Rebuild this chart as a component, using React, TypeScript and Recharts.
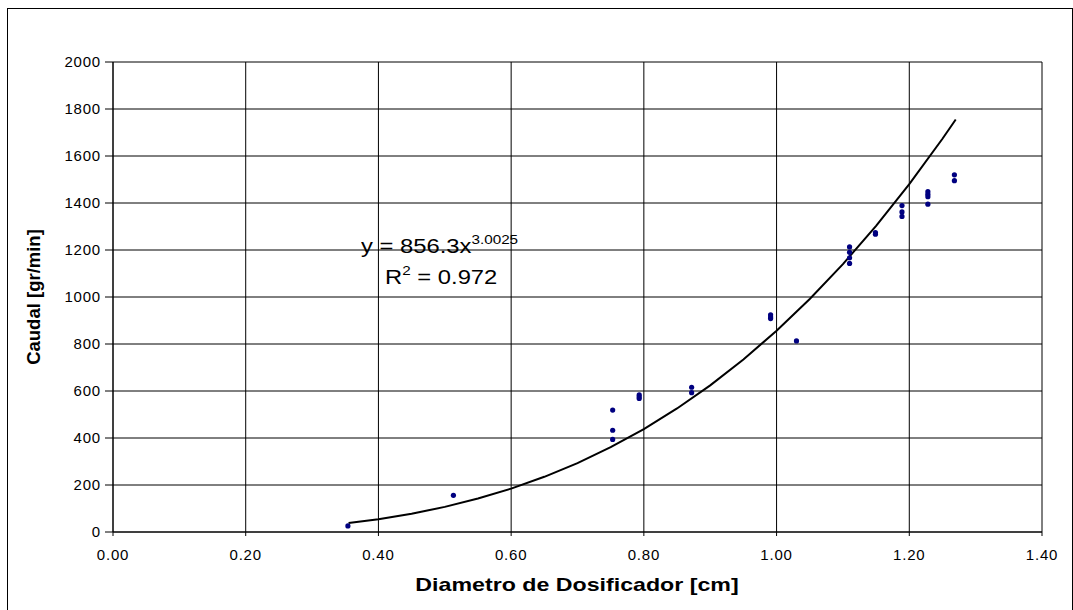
import React from "react";
import {
  ScatterChart,
  Scatter,
  XAxis,
  YAxis,
  CartesianGrid,
} from "recharts";

// measured points: diameter [cm] -> flow [gr/min]
const diam = [
  0.354, 0.513,
  0.753, 0.753, 0.753,
  0.793, 0.793, 0.793,
  0.872, 0.872,
  0.991, 0.991, 0.991,
  1.03,
  1.11, 1.11, 1.11, 1.11,
  1.149, 1.149,
  1.189, 1.189, 1.189,
  1.228, 1.228, 1.228, 1.228,
  1.268, 1.268,
];
const caudal = [
  26, 156,
  519, 433, 394,
  584, 576, 568,
  616, 593,
  924, 915, 908,
  813,
  1213, 1190, 1167, 1143,
  1274, 1267,
  1389, 1362, 1343,
  1448, 1437, 1427, 1395,
  1520, 1495,
];

// power trendline y = 856.3x^3.0025, as drawn
const trendX = [0.355, 0.4, 0.45, 0.5, 0.55, 0.6, 0.65, 0.7, 0.75, 0.8, 0.85, 0.9, 0.95, 1.0, 1.05, 1.1, 1.15, 1.2, 1.25, 1.27];
const trendY = [38.2, 54.7, 77.9, 106.9, 142.3, 184.7, 234.9, 293.4, 361.0, 438.2, 525.7, 624.1, 734.1, 856.3, 991.4, 1140.0, 1302.8, 1480.4, 1673.4, 1755.1];

const xTicks = [0, 0.2, 0.4, 0.6, 0.8, 1.0, 1.2, 1.4];
const yTicks = [0, 200, 400, 600, 800, 1000, 1200, 1400, 1600, 1800, 2000];

const points = diam.map((x, i) => ({ x, y: caudal[i] }));
const trend = trendX.map((x, i) => ({ x, y: trendY[i] }));

const font = '"Liberation Sans", Arial, sans-serif';

const Dot = (props: any) => (
  <circle cx={props.cx} cy={props.cy} r={2.6} fill="#000080" />
);

export default function App() {
  return (
    <div
      style={{
        position: "absolute",
        left: 0,
        top: 0,
        width: 1073,
        height: 610,
        overflow: "hidden",
        background: "#fff",
        fontFamily: font,
      }}
    >
      <div
        style={{
          position: "absolute",
          left: 7,
          top: 8,
          width: 1064,
          height: 640,
          border: "1px solid #000",
        }}
      />
      <div style={{ position: "absolute", left: 0, top: 0 }}>
        <ScatterChart
          width={1073}
          height={610}
          margin={{ top: 62, right: 31, left: 0, bottom: 0 }}
        >
          <CartesianGrid stroke="#000" strokeWidth={1} />
          <XAxis
            type="number"
            dataKey="x"
            domain={[0, 1.4]}
            ticks={xTicks}
            tickFormatter={(v: number) => v.toFixed(2)}
            height={78}
            stroke="#000"
            tickSize={4}
            tickMargin={13}
            tick={{ fill: "#000", fontSize: 15, fontFamily: font, letterSpacing: 0.8 }}
            allowDataOverflow
          />
          <YAxis
            type="number"
            dataKey="y"
            domain={[0, 2000]}
            ticks={yTicks}
            width={113}
            stroke="#000"
            tickSize={8}
            tickMargin={4}
            tick={{ fill: "#000", fontSize: 15, fontFamily: font, letterSpacing: 0.8 }}
            allowDataOverflow
          />
          <Scatter
            data={trend}
            line={{ stroke: "#000", strokeWidth: 2 }}
            lineType="joint"
            shape={() => <g />}
            isAnimationActive={false}
          />
          <Scatter data={points} shape={Dot} isAnimationActive={false} />
        </ScatterChart>
      </div>

      {/* trendline equation */}
      <div
        style={{
          position: "absolute",
          left: 361,
          top: 235,
          fontSize: 19.5,
          lineHeight: "22px",
          whiteSpace: "nowrap",
          transform: "scaleX(1.22)",
          transformOrigin: "left center",
          color: "#000",
        }}
      >
        y = 856.3x
        <span style={{ fontSize: 12.5, position: "relative", top: -9 }}>3.0025</span>
      </div>
      <div
        style={{
          position: "absolute",
          left: 385,
          top: 266,
          fontSize: 19.5,
          lineHeight: "22px",
          whiteSpace: "nowrap",
          transform: "scaleX(1.22)",
          transformOrigin: "left center",
          color: "#000",
        }}
      >
        R<span style={{ fontSize: 12.5, position: "relative", top: -9 }}>2</span> = 0.972
      </div>

      {/* axis titles */}
      <div
        style={{
          position: "absolute",
          left: 577,
          top: 585,
          fontSize: 19,
          fontWeight: "bold",
          whiteSpace: "nowrap",
          transform: "translate(-50%, -50%) scaleX(1.22)",
          color: "#000",
        }}
      >
        Diametro de Dosificador [cm]
      </div>
      <div
        style={{
          position: "absolute",
          left: 34,
          top: 297,
          fontSize: 18.5,
          fontWeight: "bold",
          whiteSpace: "nowrap",
          transform: "translate(-50%, -50%) rotate(-90deg)",
          color: "#000",
        }}
      >
        Caudal [gr/min]
      </div>
    </div>
  );
}
